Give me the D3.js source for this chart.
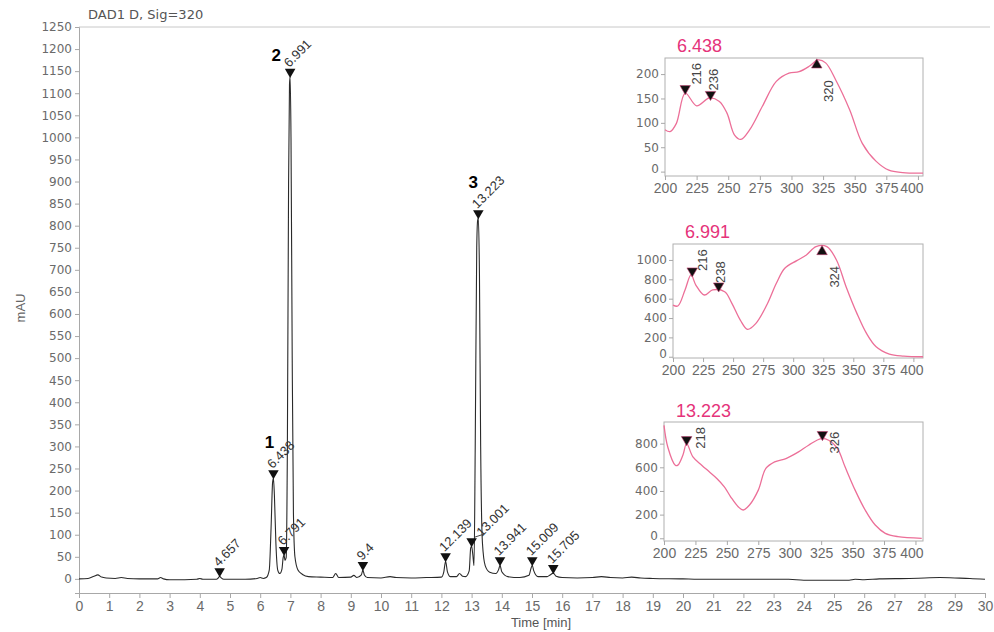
<!DOCTYPE html>
<html>
<head>
<meta charset="utf-8">
<script src="https://cdn.jsdelivr.net/npm/d3@7"></script>
<style>
  body { margin: 0; background: #fff; }
  svg { display: block; font-family: "Liberation Sans", Arial, sans-serif; }
  .axis path, .axis line { stroke: #a8a8a8; }
  .axis text { fill: #6a6a6a; }
</style>
</head>
<body>
<div id="chart"></div>
<script>
// chromatogram trace (time in min, signal in mAU)
var traceTime = [0, 0.3, 0.5, 0.62, 0.75, 0.9, 1.2, 1.4, 1.6, 2.0, 2.6, 2.7, 2.8, 3.0, 3.5, 3.9, 4.0, 4.1, 4.55,
  4.62, 4.657, 4.7, 4.8, 5.5, 5.9, 6.0, 6.1, 6.2, 6.3, 6.36, 6.41, 6.438, 6.47, 6.52, 6.58, 6.65, 6.72, 6.76,
  6.791, 6.82, 6.86, 6.9, 6.94, 6.97, 6.991, 7.02, 7.06, 7.1, 7.15, 7.25, 7.4, 7.6, 8.0, 8.4, 8.5, 8.6, 9.0,
  9.1, 9.2, 9.35, 9.4, 9.45, 9.55, 10.0, 10.3, 10.5, 11.0, 11.5, 12.0, 12.08, 12.139, 12.2, 12.3, 12.5, 12.6,
  12.7, 12.8, 12.92, 12.97, 13.001, 13.04, 13.08, 13.12, 13.17, 13.2, 13.223, 13.26, 13.3, 13.36, 13.45, 13.6,
  13.8, 13.9, 13.941, 14.0, 14.2, 14.6, 14.9, 14.96, 15.009, 15.06, 15.2, 15.5, 15.6, 15.705, 15.8, 16.0, 16.5,
  17.0, 17.3, 17.6, 18.0, 18.3, 18.6, 19.0, 20.0, 20.5, 23.5, 24.0, 25.5, 25.7, 26.0, 26.5, 27.5, 28.0, 28.5,
  29.0, 29.5, 30.0];
var traceMAU = [0, 1, 6, 9, 4, 2, 1, 3, 1, 0, 0, 3, 0, -2, -2, -1, 1, -1, -1,
  3, 6, 3, -1, -1, 1, 3, 1, 3, 20, 115, 218, 228, 190, 80, 20, 12, 22, 48,
  54, 42, 48, 300, 900, 1120, 1137, 1000, 500, 150, 50, 20, 10, 5, 4, 3, 12, 3, 4,
  8, 3, 9, 20, 9, 3, 2, 5, 3, 2, 3, 4, 16, 40, 16, 5, 5, 12,
  6, 5, 18, 70, 74, 55, 30, 300, 750, 812, 817, 690, 300, 80, 30, 15,
  12, 22, 31, 16, 5, 3, 8, 22, 31, 18, 5, 5, 9, 13, 6, 3, 2,
  3, 5, 3, 2, 4, 2, 1, 0, -1, -1, -3, -3, -1, -2, 0, 1, 2, 3,
  2, 1, -1];

// integrated peaks
var peakTimes = [4.657, 6.438, 6.791, 6.991, 9.4, 12.139, 13.001, 13.223, 13.941, 15.009, 15.705];
var peakHeights = [6, 228, 54, 1137, 20, 40, 74, 817, 31, 31, 13];
var peakLabels = ["4.657", "6.438", "6.791", "6.991", "9.4", "12.139", "13.001", "13.223", "13.941", "15.009", "15.705"];
var peakNumbers = ["1", "2", "3"];
var peakNumberTimes = [6.438, 6.991, 13.223];

// UV spectra (wavelength nm, absorbance mAU)
var spec1Wl = [200, 204, 209, 216, 225, 235, 243, 249, 255, 260, 267, 277, 288, 298, 306, 314, 321, 327, 335, 346, 356, 367, 377, 388, 404];
var spec1Abs = [86, 82, 99, 161, 135, 151, 144, 120, 75, 66, 86, 134, 185, 202, 205, 216, 229, 223, 188, 127, 58, 21, 3, -2, -3];
var spec2Wl = [200, 204, 210, 215, 219, 226, 233, 243, 249, 256, 262, 269, 278, 286, 293, 303, 311, 319, 328, 336, 344, 353, 361, 369, 380, 392, 408];
var spec2Abs = [534, 524, 690, 845, 741, 638, 690, 672, 552, 379, 283, 345, 534, 759, 914, 993, 1052, 1138, 1138, 1000, 724, 448, 241, 103, 28, 7, 0];
var spec3Wl = [200, 203, 209, 211, 215, 218, 223, 230, 236, 242, 248, 253, 259, 263, 268, 275, 281, 288, 297, 307, 315, 325, 331, 338, 344, 352, 360, 368, 376, 386, 405];
var spec3Abs = [955, 772, 618, 618, 702, 800, 688, 618, 562, 506, 435, 351, 267, 239, 281, 407, 590, 646, 674, 730, 787, 843, 829, 758, 604, 407, 239, 112, 42, 14, 0];
var wlTicks = [200, 225, 250, 275, 300, 325, 350, 375, 400];

var W = 994, H = 632;
var svg = d3.select("#chart").append("svg").attr("width", W).attr("height", H);

// main chromatogram scales
var x = d3.scaleLinear().domain([0, 30]).range([79, 985]);
var y = d3.scaleLinear().domain([-32, 1250]).range([593, 27]);

svg.append("line")
    .attr("x1", 79).attr("x2", 990).attr("y1", 27).attr("y2", 27)
    .attr("stroke", "#c8c8c8");

svg.append("g")
    .attr("class", "axis")
    .attr("transform", "translate(0,593)")
    .call(d3.axisBottom(x).tickValues(d3.range(0, 31)).tickSize(5).tickPadding(3).tickFormat(d3.format("d")))
    .selectAll("text").style("font-size", "14px");

svg.append("g")
    .attr("class", "axis")
    .attr("transform", "translate(79,0)")
    .call(d3.axisLeft(y).tickValues(d3.range(0, 1251, 50)).tickSize(4).tickPadding(3).tickFormat(d3.format("d")))
    .selectAll("text").style("font-family", "DejaVu Sans").style("font-size", "12px");

svg.append("text")
    .attr("x", 88).attr("y", 19)
    .style("font-family", "DejaVu Sans").style("font-size", "13px").attr("fill", "#555")
    .text("DAD1 D, Sig=320");

svg.append("text")
    .attr("transform", "translate(25,308) rotate(-90)")
    .style("text-anchor", "middle").style("font-size", "13px").attr("fill", "#666")
    .text("mAU");

svg.append("text")
    .attr("x", 541).attr("y", 627)
    .style("text-anchor", "middle").style("font-size", "13px").attr("fill", "#555")
    .text("Time [min]");

var traceData = traceTime.map(function(t, i) { return [t, traceMAU[i]]; });
svg.append("path")
    .datum(traceData)
    .attr("fill", "none")
    .attr("stroke", "#2a2a2a")
    .attr("stroke-width", 1.1)
    .attr("d", d3.line().x(function(d) { return x(d[0]); }).y(function(d) { return y(d[1]); }).curve(d3.curveMonotoneX));

var tri = d3.symbol().type(d3.symbolTriangle).size(48);

peakTimes.forEach(function(t, i) {
    var px = x(t), py = y(peakHeights[i]);
    svg.append("path")
        .attr("d", tri)
        .attr("transform", "translate(" + px + "," + (py - 5) + ") rotate(180)")
        .attr("fill", "#111");
    var lx = px - 1, ly = py - 9;
    if (peakLabels[i] === "13.001") {
        svg.append("line")
            .attr("x1", px + 3).attr("y1", py - 9).attr("x2", px + 12).attr("y2", py - 12)
            .attr("stroke", "#444");
        lx = px + 10; ly = py - 9;
    }
    svg.append("text")
        .attr("transform", "translate(" + lx + "," + ly + ") rotate(-45)")
        .style("font-size", "13px").attr("fill", "#333")
        .text(peakLabels[i]);
});

// peak number offsets from the apex
var numDx = [-4, -14, -5], numDy = [-30, -16, -30];
peakNumbers.forEach(function(n, k) {
    var i = peakTimes.indexOf(peakNumberTimes[k]);
    svg.append("text")
        .attr("x", x(peakTimes[i]) + numDx[k]).attr("y", y(peakHeights[i]) + numDy[k])
        .style("font-size", "17px").style("font-weight", "bold").attr("fill", "#000")
        .style("text-anchor", "middle")
        .text(n);
});

// spectrum insets
var insets = [
    {title: "6.438", wl: spec1Wl, abs: spec1Abs, left: 665, right: 923, top: 58, bottom: 176,
     xmax: 404, ymin: -9, ymax: 233, yTicks: [0, 50, 100, 150, 200], titleY: 52,
     marks: [[216, 162, "down", 16, -8], [236, 150, "down", 7, -8], [320, 229, "up", 16, 42]]},
    {title: "6.991", wl: spec2Wl, abs: spec2Abs, left: 673, right: 923, top: 244, bottom: 358,
     xmax: 408, ymin: -13, ymax: 1165, yTicks: [0, 200, 400, 600, 800, 1000], titleY: 238,
     marks: [[216, 845, "down", 15, -4], [238, 690, "down", 6, -7], [324, 1138, "up", 17, 41]]},
    {title: "13.223", wl: spec3Wl, abs: spec3Abs, left: 664, right: 923, top: 422, bottom: 541,
     xmax: 406, ymin: -23, ymax: 983, yTicks: [0, 200, 400, 600, 800], titleY: 417,
     marks: [[218, 800, "down", 18, 5], [326, 843, "down", 17, 15]]}
];

insets.forEach(function(s) {
    var sx = d3.scaleLinear().domain([200, s.xmax]).range([s.left, s.right]);
    var sy = d3.scaleLinear().domain([s.ymin, s.ymax]).range([s.bottom, s.top]);
    var g = svg.append("g");

    g.append("rect")
        .attr("x", s.left).attr("y", s.top)
        .attr("width", s.right - s.left).attr("height", s.bottom - s.top)
        .attr("fill", "#fff").attr("stroke", "#b0b0b0");

    var xa = g.append("g")
        .attr("class", "axis")
        .attr("transform", "translate(0," + s.bottom + ")")
        .call(d3.axisBottom(sx).tickValues(wlTicks).tickSize(4).tickPadding(3));
    xa.selectAll("text").style("font-size", "14px");
    xa.selectAll(".tick").filter(function(d) { return d === 400; })
        .select("text").style("text-anchor", "end").attr("x", s.right - sx(400));
    xa.select(".domain").remove();

    var ya = g.append("g")
        .attr("class", "axis")
        .attr("transform", "translate(" + s.left + ",0)")
        .call(d3.axisLeft(sy).tickValues(s.yTicks).tickSize(4).tickPadding(2).tickFormat(d3.format("d")));
    ya.selectAll("text").style("font-family", "DejaVu Sans").style("font-size", "12px");
    ya.selectAll(".tick").filter(function(d) { return d === 0; })
        .select("text").attr("dy", "0.1em");
    ya.select(".domain").remove();

    var data = s.wl.map(function(w, i) { return [w, s.abs[i]]; });
    g.append("path")
        .datum(data)
        .attr("fill", "none")
        .attr("stroke", "#ec6f98")
        .attr("stroke-width", 1.3)
        .attr("d", d3.line().x(function(d) { return sx(d[0]); }).y(function(d) { return sy(d[1]); }).curve(d3.curveCatmullRom));

    g.append("text")
        .attr("x", s.left + 12).attr("y", s.titleY)
        .style("font-size", "18px").attr("fill", "#e5337a")
        .text(s.title);

    s.marks.forEach(function(m) {
        var mx = sx(m[0]), my = sy(m[1]);
        var down = m[2] === "down";
        g.append("path")
            .attr("d", tri)
            .attr("transform", "translate(" + mx + "," + (down ? my - 4 : my + 5) + ")" + (down ? " rotate(180)" : ""))
            .attr("fill", "#111").attr("stroke", "#c04070").attr("stroke-width", 0.6);
        g.append("text")
            .attr("transform", "translate(" + (mx + m[3]) + "," + (my + m[4]) + ") rotate(-90)")
            .style("font-size", "13px").attr("fill", "#444")
            .text(m[0]);
    });
});
</script>
</body>
</html>
